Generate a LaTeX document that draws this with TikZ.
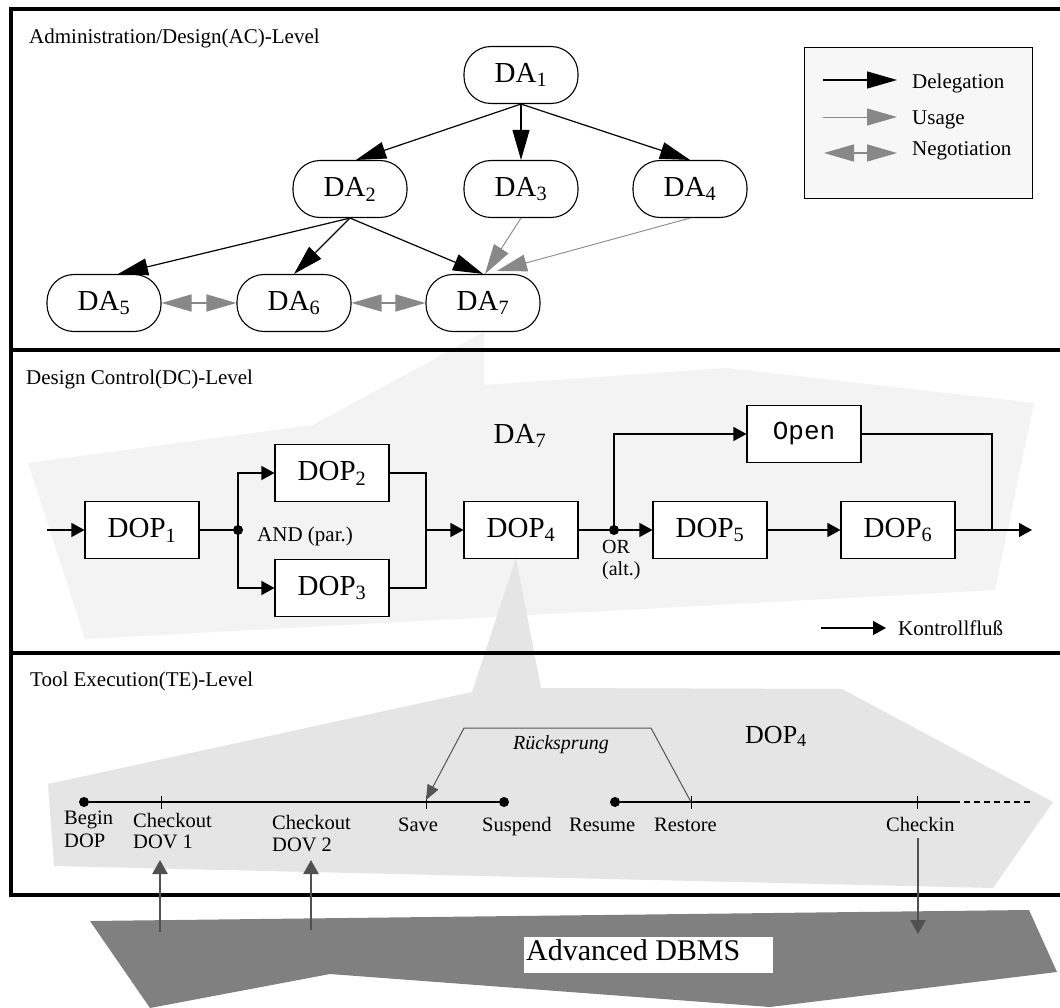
\documentclass[tikz,border=0pt]{standalone}
\usepackage{fontspec}
\setmainfont{Liberation Serif}
\newfontfamily\codefont{Liberation Mono}
\usetikzlibrary{arrows.meta}
\newcommand{\setpx}[1]{\fontsize{#1}{#1}\selectfont}

\definecolor{dcshade}{HTML}{F3F3F3}
\definecolor{teshade}{HTML}{E5E5E5}
\definecolor{dbshade}{HTML}{808080}
\definecolor{legendfill}{HTML}{F7F7F7}
\definecolor{usegray}{HTML}{888888}
\definecolor{dbarrowgray}{HTML}{505050}
\definecolor{backgray}{HTML}{555555}

\begin{document}
\begin{tikzpicture}[x=1pt,y=-1pt,
  frame/.style={line width=3.5pt},
  lvl/.style={font=\setpx{21}, inner sep=0pt, anchor=base west},
  da/.style={draw, fill=white, line width=1.1pt, rounded corners=27pt,
    minimum width=114pt, minimum height=57pt, inner sep=0pt, font=\setpx{29}},
  dop/.style={draw, fill=white, line width=1.1pt,
    minimum width=114pt, minimum height=57pt, inner sep=0pt, font=\setpx{29}},
  deleg/.style={line width=1.2pt, -{Triangle[length=30pt,width=17pt]}},
  usage/.style={draw=usegray, line width=0.9pt, -{Triangle[length=30pt,width=17pt,fill=usegray]}},
  nego/.style={draw=usegray, line width=1.5pt,
    {Triangle[length=30pt,width=17pt,fill=usegray]}-{Triangle[length=30pt,width=17pt,fill=usegray]}},
  flow/.style={line width=1.3pt, -{Triangle[length=13pt,width=14pt]}},
  plain/.style={line width=1.3pt},
  dot/.style={circle, fill=black, inner sep=0pt, minimum size=10pt},
  tline/.style={line width=2pt},
  tick/.style={line width=1pt},
  txt/.style={font=\setpx{21}, inner sep=0pt, anchor=base west, align=left},
  dbarrow/.style={draw=dbarrowgray, line width=2.5pt, -{Triangle[length=14pt,width=15pt,fill=dbarrowgray]}},
  back/.style={draw=backgray, line width=1pt, -{Triangle[length=15pt,width=12pt,fill=backgray]}}
]
\clip (0,0) rectangle (1060,1008);
\fill[white] (0,0) rectangle (1060,1008);

% shaded regions: DA7 expanded into the DC level, DOP4 into the TE level, the DBMS below
\fill[dcshade] (28,463) -- (313,425) -- (484,332) -- (484,385) -- (727,368)
  -- (1034,403) -- (995,590) -- (85,639) -- cycle;
\fill[teshade] (48,784) -- (472,692) -- (516,558) -- (541,688) -- (842,689)
  -- (1053,802) -- (993,888) -- (54,866) -- cycle;
\fill[dbshade] (90,921) -- (1029,910) -- (1057,972) -- (770,1007) -- (330,974)
  -- (150,1008) -- cycle;

% level frame
\draw[frame] (1065,9) -- (11,9) -- (11,895) -- (1065,895);
\draw[frame] (11,350) -- (1065,350);
\draw[frame] (11,653) -- (1065,653);

% level titles
\node[lvl] (lacl) at (29,44) {Administration/Design(AC)-Level};
\node[lvl] (ldcl) at (26,384) {Design Control(DC)-Level};
\node[lvl] (ltel) at (30,686) {Tool Execution(TE)-Level};

% ---------------- AC level ----------------
\node[da] (DA1) at (521,75)  {DA\textsubscript{1}};
\node[da] (DA2) at (350,189) {DA\textsubscript{2}};
\node[da] (DA3) at (521,189) {DA\textsubscript{3}};
\node[da] (DA4) at (690,189) {DA\textsubscript{4}};
\node[da] (DA5) at (104,303) {DA\textsubscript{5}};
\node[da] (DA6) at (294,303) {DA\textsubscript{6}};
\node[da] (DA7) at (483,303) {DA\textsubscript{7}};

\draw[deleg] (DA1.south) -- ([xshift=6pt]DA2.north);
\draw[deleg] (DA1.south) -- (DA3.north);
\draw[deleg] (DA1.south) -- (DA4.north);
\draw[deleg] (DA2.south) -- ([xshift=14pt]DA5.north);
\draw[deleg] (DA2.south) -- (DA6.north);
\draw[deleg] (DA2.south) -- (DA7.north);
\draw[usage] (DA3.south) -- ([xshift=2pt]DA7.north);
\draw[usage] (DA4.south) -- ([xshift=14pt,yshift=3pt]DA7.north);
\draw[nego] (DA5.east) -- (DA6.west);
\draw[nego] (DA6.east) -- (DA7.west);

% legend
\node[draw, fill=legendfill, line width=0.9pt, minimum width=228pt, minimum height=151pt,
  inner sep=0pt] (legend) at (918,122.5) {};
\coordinate (lg1a) at (823,80);  \coordinate (lg1b) at (897,80);
\coordinate (lg2a) at (823,117); \coordinate (lg2b) at (897,117);
\coordinate (lg3a) at (824,153); \coordinate (lg3b) at (897,153);
\draw[deleg] (lg1a) -- (lg1b);
\draw[usage] (lg2a) -- (lg2b);
\draw[nego] (lg3a) -- (lg3b);
\node[txt] (tdeleg) at (912,89)  {Delegation};
\node[txt] (tusage) at (912,125) {Usage};
\node[txt] (tnego)  at (912,156) {Negotiation};

% ---------------- DC level ----------------
\node[font=\setpx{29}, inner sep=0pt] (da7lbl) at (520,436) {DA\textsubscript{7}};

\node[dop] (DOP1) at (142,530) {DOP\textsubscript{1}};
\node[dop] (DOP2) at (332,473) {DOP\textsubscript{2}};
\node[dop] (DOP3) at (332,588) {DOP\textsubscript{3}};
\node[dop] (DOP4) at (521,530) {DOP\textsubscript{4}};
\node[dop] (DOP5) at (710,530) {DOP\textsubscript{5}};
\node[dop] (DOP6) at (898,530) {DOP\textsubscript{6}};
\node[dop, font=\codefont\setpx{26}] (Open) at (804,434) {Open};

\node[dot] (and) at (238,530) {};
\node[dot] (or)  at (614,530) {};
\coordinate (start) at (47,530);
\coordinate (join1) at (426,530);
\coordinate (join2) at (992,530);
\coordinate (finish) at (1032,530);

\draw[flow] (start) -- (DOP1.west);
\draw[plain] (DOP1.east) -- (and);
\draw[flow] (and.center) |- (DOP2.west);
\draw[flow] (and.center) |- (DOP3.west);
\draw[plain] (DOP2.east) -| (join1);
\draw[plain] (DOP3.east) -| (join1);
\draw[flow] (join1) -- (DOP4.west);
\draw[plain] (DOP4.east) -- (or);
\draw[flow] (or) -- (DOP5.west);
\draw[flow] (or.center) |- (Open.west);
\draw[flow] (DOP5.east) -- (DOP6.west);
\draw[plain] (Open.east) -| (join2);
\draw[flow] (DOP6.east) -- (finish);

\node[txt] (andlbl) at (257,541) {AND (par.)};
\node[font=\setpx{20}, inner sep=0pt, anchor=base west] (orlbl) at (602,553) {OR};
\node[font=\setpx{20}, inner sep=0pt, anchor=base west] (altlbl) at (602,575) {(alt.)};

\coordinate (kf1) at (821,628); \coordinate (kf2) at (886,628);
\draw[flow] (kf1) -- (kf2);
\node[txt] (kflbl) at (898,635) {Kontrollflu\ss};

% ---------------- TE level ----------------
\node[font=\setpx{26}, inner sep=0pt, anchor=base west] (dop4lbl) at (745,743) {DOP\textsubscript{4}};

\node[dot] (begin)   at (84,802) {};
\node[dot] (suspend) at (504,802) {};
\node[dot] (resume)  at (615,802) {};
\coordinate (co1) at (161,802);
\coordinate (save) at (426,802);
\coordinate (restore) at (691,802);
\coordinate (checkin) at (917,802);
\coordinate (solidend) at (954,802);
\coordinate (openend) at (1030,802);

\draw[tline] (begin) -- (suspend);
\draw[tline] (resume) -- (solidend);
\draw[tline, dash pattern=on 6pt off 4pt] (solidend) -- (openend);
\foreach \t in {co1,save,restore,checkin}
  \draw[tick] ([yshift=6.5pt]\t) -- ([yshift=-6.5pt]\t);

\coordinate (rs1) at (651,728);
\coordinate (rs2) at (464,728);
\draw[back] (restore) -- (rs1) -- (rs2) -- ([yshift=2pt]save);
\node[font=\itshape\setpx{20}, inner sep=0pt] (rslbl) at (561,745) {R\"ucksprung};

% event labels; two-line labels are placed by the baseline of their last line
\begin{scope}[every node/.style={font=\setpx{20.5}, inner sep=0pt, anchor=base west, align=left}]
\node (lbegin) at (64,847)  {Begin\\[2.5pt]DOP};
\node (lco1)   at (133,848) {Checkout\\[0.5pt]DOV 1};
\node (lco2)   at (272,851) {Checkout\\[1.5pt]DOV 2};
\node (lsave)  at (398,831) {Save};
\node (lsusp)  at (482,831) {Suspend};
\node (lres)   at (569,831) {Resume};
\node (lrest)  at (654,831) {Restore};
\node (lcheck) at (886,831) {Checkin};
\end{scope}

% DBMS and its exchange with the TE level
\fill[white] (524,937) rectangle (773,973);
\node[font=\setpx{30}, inner sep=0pt, anchor=base west] (dbms) at (526,960) {Advanced DBMS};

\coordinate (db1) at (160,932); \coordinate (co1tip) at (160,860);
\coordinate (db2) at (311,930); \coordinate (co2tip) at (311,860);
\coordinate (ci1) at (918,838); \coordinate (db3) at (918,934);
\draw[dbarrow] (db1) -- (co1tip);
\draw[dbarrow] (db2) -- (co2tip);
\draw[dbarrow] (ci1) -- (db3);
\end{tikzpicture}
\end{document}
